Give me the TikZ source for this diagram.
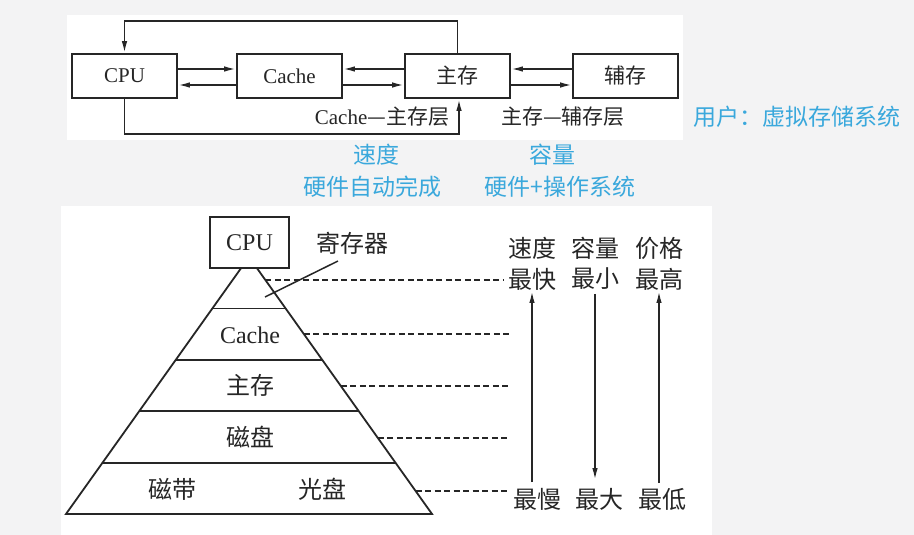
\documentclass[tikz,border=0pt]{standalone}
\usepackage{fontspec}
\setmainfont{Liberation Serif}
\newfontfamily\cjk{Noto Sans CJK SC}
\usetikzlibrary{arrows.meta,calc}

\definecolor{ink}{HTML}{262626}
\definecolor{skyblue}{HTML}{3AA8DC}
\definecolor{slide}{HTML}{F3F3F4}

\begin{document}
\begin{tikzpicture}[
  x=1pt, y=-1pt,
  line width=1.8pt,
  draw=ink,
  >={Latex[length=12pt,width=5.5pt]},
  box/.style={draw=ink, fill=white, text=ink, minimum width=105pt, minimum height=44pt, inner sep=0pt, font=\fontsize{21}{21}\selectfont},
  lbl/.style={inner sep=0pt, text=ink, font=\fontsize{21}{21}\selectfont},
  big/.style={inner sep=0pt, text=ink, font=\fontsize{24}{24}\selectfont},
  hint/.style={inner sep=0pt, text=skyblue, font=\cjk\fontsize{23}{23}\selectfont},
  lvl/.style={dash pattern=on 6pt off 3.5pt},
]

\fill [slide] (0,0) rectangle (914,535);
\fill [white] (67,15) rectangle (683,140);
\fill [white] (61,206) rectangle (712,535);
\useasboundingbox (0,0) rectangle (914,535);

\node [box] (cpu) at (124.5,76) {CPU};
\node [box] (cache) at (289.5,76) {Cache};
\node [box] (zhu) at (457.5,76) {\cjk 主存};
\node [box] (fu) at (625.5,76) {\cjk 辅存};

\draw [->] ([yshift=7pt]cpu.east) -- ([yshift=7pt]cache.west);
\draw [->] ([yshift=-9pt]cache.west) -- ([yshift=-9pt]cpu.east);
\draw [->] ([yshift=7pt]zhu.west) -- ([yshift=7pt]cache.east);
\draw [->] ([yshift=-9pt]cache.east) -- ([yshift=-9pt]zhu.west);
\draw [->] ([yshift=7pt]fu.west) -- ([yshift=7pt]zhu.east);
\draw [->] ([yshift=-9pt]zhu.east) -- ([yshift=-9pt]fu.west);

\draw [->] (zhu.north) -- ++(0,-32) -| (cpu.north);
\draw [->] (cpu.south) -- ++(0,35) -| ([xshift=1.5pt]zhu.south);

\node [lbl, anchor=east] (cachelayer) at (450,117) {Cache{\cjk —主存层}};
\node [lbl] (fulayer) at (563,117) {\cjk 主存—辅存层};

\node [hint] (user) at (797,117) {用户：虚拟存储系统};
\node [hint] (speed) at (376,155) {速度};
\node [hint] (hw) at (372,187) {硬件自动完成};
\node [hint] (cap) at (552,155) {容量};
\node [hint] (hwos) at (560,187) {硬件+操作系统};

\coordinate (apex) at (249,257);
\coordinate (bl) at (66,514);
\coordinate (br) at (432,514);
\draw (apex) -- (bl) -- (br) -- cycle;
\foreach \t in {0.2,0.4,0.6,0.8}
  \draw ($(apex)!\t!(bl)$) -- ($(apex)!\t!(br)$);
\node [box, big, minimum width=79pt, minimum height=51pt] (cpu2) at (249.5,242.5) {CPU};

\node [big] (reg) at (352,243) {\cjk 寄存器};
\coordinate (regtip) at (265,297);
\draw [line width=1.5pt] ([xshift=-14pt,yshift=-6pt]reg.south) -- (regtip);

\node [big] (l1) at (250,335) {Cache};
\node [big] (l2) at (250,385) {\cjk 主存};
\node [big] (l3) at (250,437) {\cjk 磁盘};
\node [big] (l4a) at (172,489) {\cjk 磁带};
\node [big] (l4b) at (322,489) {\cjk 光盘};

\foreach \y/\e in {280/503,334/510,386/510,438/508,491/510}
  \draw [lvl] ({249+0.712*(\y-257)},\y) -- (\e,\y);

\node [big] (speed2) at (532,248) {\cjk 速度};
\node [big] (fast) at (532,279) {\cjk 最快};
\node [big] (cap2) at (595,248) {\cjk 容量};
\node [big] (small) at (595,279) {\cjk 最小};
\node [big] (price) at (659,248) {\cjk 价格};
\node [big] (high) at (659,279) {\cjk 最高};
\node [big] (slow) at (537,499) {\cjk 最慢};
\node [big] (large) at (599,499) {\cjk 最大};
\node [big] (low) at (662,499) {\cjk 最低};

\draw [->, shorten <=5pt] (fast.south |- slow.north) -- (fast.south);
\draw [->, shorten <=3pt, shorten >=7pt] (small.south) -- (small.south |- large.north);
\draw [->, shorten <=4pt] (high.south |- low.north) -- (high.south);

\end{tikzpicture}
\end{document}
